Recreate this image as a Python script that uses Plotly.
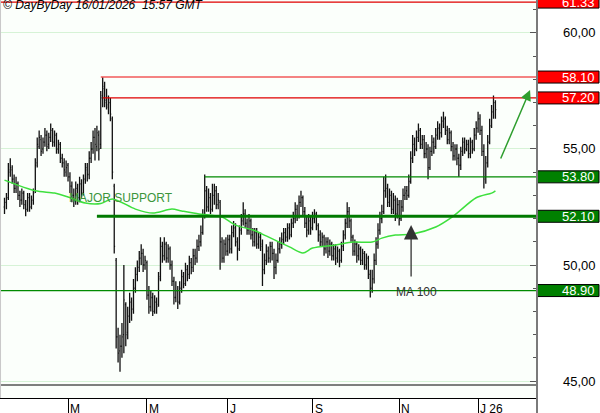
import plotly.graph_objects as go
import pandas as pd

# ---------------- data ----------------
holidays = ["2025-04-18", "2025-04-21", "2025-05-01", "2025-12-25", "2025-12-26", "2026-01-01"]

open_ = [
    52.5, 52.7, 52.9, 54.0, 54.1, 53.7, 53.3, 53.5, 53.0, 52.8, 53.1, 52.6, 52.4, 52.9, 52.5, 52.8,
    53.2, 54.4, 55.1, 55.4, 55.0, 55.3, 55.6, 55.2, 55.5, 55.8, 55.3, 55.6, 55.0, 55.2, 54.6, 54.4,
    54.0, 54.3, 53.8, 53.4, 53.0, 52.8, 53.3, 52.9, 53.5, 53.1, 53.7, 54.2, 53.9, 54.6, 55.0, 55.5,
    55.1, 55.6, 55.2, 57.3, 57.7, 57.0, 56.8, 57.0, 56.3, 53.4, 50.2, 46.9, 46.3, 46.5, 47.0, 48.3,
    47.1, 47.8, 48.4, 48.1, 49.0, 49.6, 49.9, 50.3, 50.5, 50.0, 50.1, 48.7, 48.2, 48.6, 48.0, 48.4,
    48.3, 49.5, 50.8, 50.4, 50.9, 50.3, 50.7, 50.0, 49.3, 48.6, 48.9, 48.4, 49.0, 49.5, 49.2, 49.8,
    49.6, 50.1, 49.9, 50.4, 50.3, 50.8, 51.0, 51.4, 52.1, 53.2, 52.5, 52.9, 52.4, 53.0, 53.2, 52.6,
    52.7, 51.0, 50.3, 50.9, 50.6, 51.1, 50.7, 51.4, 51.6, 51.0, 50.7, 51.5, 51.9, 52.2, 51.8, 51.5,
    51.9, 51.3, 51.0, 51.4, 50.9, 51.2, 50.9, 49.8, 50.2, 50.6, 50.3, 50.8, 50.5, 49.9, 50.2, 50.7,
    50.9, 51.1, 51.4, 51.2, 51.6, 51.3, 51.8, 52.0, 52.4, 52.1, 52.7, 52.9, 52.3, 51.8, 51.5, 51.9,
    51.6, 52.0, 52.2, 51.7, 51.3, 51.0, 51.2, 50.7, 51.0, 50.6, 50.9, 50.4, 50.7, 50.3, 50.6, 50.2,
    50.8, 51.3, 51.8, 52.3, 51.9, 51.2, 50.6, 50.9, 50.4, 50.7, 50.2, 50.5, 50.0, 50.3, 49.6, 49.0,
    49.4, 50.2, 50.9, 51.5, 52.0, 52.3, 53.2, 53.3, 52.7, 53.0, 52.4, 52.8, 52.2, 52.6, 52.0, 52.5,
    53.0, 53.2, 53.0, 53.6, 54.6, 55.2, 55.0, 55.5, 55.8, 55.2, 55.4, 54.8, 55.0, 54.2, 54.9, 55.3,
    55.1, 55.6, 55.9, 55.7, 56.2, 56.3, 55.8, 55.4, 55.7, 55.1, 54.7, 55.0, 54.6, 54.3, 54.9, 55.3,
    55.0, 55.2, 54.8, 55.3, 55.0, 55.6, 55.9, 56.3, 55.8, 54.9, 53.8, 54.4, 55.3, 56.0, 56.6, 57.0,
]
high = [
    52.9, 53.1, 54.4, 54.6, 54.3, 53.9, 53.8, 53.6, 53.2, 53.3, 53.2, 52.8, 53.1, 53.1, 53.0, 53.3,
    54.6, 55.5, 55.8, 55.6, 55.5, 55.9, 55.8, 55.7, 56.1, 55.9, 55.8, 55.7, 55.4, 55.3, 54.8, 54.6,
    54.5, 54.4, 54.0, 53.6, 53.3, 53.6, 53.5, 53.8, 53.7, 53.9, 54.4, 54.4, 54.9, 55.3, 55.8, 55.9,
    56.0, 55.8, 57.5, 58.1, 57.9, 57.6, 57.3, 57.2, 56.4, 53.5, 50.3, 47.3, 47.0, 47.5, 50.0, 48.4,
    48.2, 48.8, 48.6, 49.4, 49.9, 50.2, 50.6, 50.9, 50.7, 50.4, 50.2, 49.1, 48.9, 48.8, 48.7, 48.6,
    49.7, 51.2, 51.0, 51.2, 51.0, 50.9, 50.8, 50.2, 49.5, 49.3, 49.1, 49.3, 49.8, 49.7, 50.1, 50.0,
    50.4, 50.3, 50.7, 50.7, 51.1, 51.3, 51.7, 52.4, 53.9, 53.4, 53.3, 53.1, 53.5, 53.5, 53.4, 53.1,
    52.8, 51.2, 51.1, 51.2, 51.3, 51.3, 51.7, 51.9, 51.8, 51.2, 51.7, 52.2, 52.7, 52.4, 52.0, 52.2,
    52.0, 51.6, 51.6, 51.6, 51.4, 51.4, 51.1, 50.5, 50.9, 50.8, 51.0, 51.0, 50.7, 50.5, 51.0, 51.2,
    51.4, 51.6, 51.6, 51.8, 51.8, 52.0, 52.3, 52.7, 52.6, 53.0, 53.2, 53.0, 52.5, 52.1, 52.2, 52.1,
    52.3, 52.4, 52.3, 51.8, 51.5, 51.4, 51.3, 51.2, 51.2, 51.1, 51.0, 50.9, 50.9, 50.8, 50.7, 51.0,
    51.5, 52.0, 52.7, 52.5, 52.0, 51.3, 51.1, 51.0, 50.9, 50.8, 50.7, 50.6, 50.5, 50.4, 49.8, 49.8,
    50.5, 51.2, 51.8, 52.3, 52.6, 53.8, 53.9, 53.5, 53.3, 53.2, 53.1, 53.0, 52.9, 52.8, 52.8, 53.3,
    53.4, 53.4, 53.9, 54.9, 55.6, 55.5, 55.8, 56.1, 55.9, 55.6, 55.6, 55.3, 55.2, 55.1, 55.6, 55.5,
    55.9, 56.2, 56.1, 56.4, 56.6, 56.4, 56.0, 55.9, 55.8, 55.3, 55.2, 55.2, 54.8, 55.1, 55.5, 55.5,
    55.4, 55.4, 55.5, 55.4, 55.9, 56.2, 56.6, 56.5, 56.0, 55.2, 54.7, 55.6, 56.3, 56.9, 57.3, 57.1,
]
low = [
    52.2, 52.4, 52.8, 53.8, 53.5, 53.1, 53.1, 52.8, 52.5, 52.6, 52.4, 52.1, 52.3, 52.3, 52.4, 52.6,
    53.1, 54.2, 55.0, 54.7, 54.8, 55.1, 54.9, 55.0, 55.3, 55.1, 55.1, 54.8, 54.8, 54.4, 54.2, 53.8,
    53.8, 53.6, 53.1, 52.7, 52.5, 52.6, 52.6, 52.7, 52.9, 53.0, 53.5, 53.6, 53.7, 54.4, 54.8, 54.5,
    54.9, 54.5, 55.0, 56.8, 56.8, 56.7, 56.5, 56.2, 53.7, 50.5, 46.4, 45.8, 45.4, 46.0, 46.2, 46.5,
    46.8, 47.5, 47.6, 47.9, 48.8, 49.3, 49.7, 50.0, 49.7, 49.8, 48.5, 47.9, 48.0, 47.8, 47.9, 47.9,
    48.2, 49.3, 50.1, 50.2, 50.1, 50.1, 49.8, 49.1, 48.3, 48.4, 48.1, 48.3, 48.8, 49.0, 49.1, 49.3,
    49.4, 49.6, 49.7, 50.0, 50.1, 50.6, 50.8, 51.3, 52.0, 52.3, 52.3, 52.2, 52.3, 52.6, 52.4, 52.4,
    49.8, 50.1, 50.1, 50.4, 50.4, 50.5, 50.5, 51.2, 50.8, 50.2, 50.6, 51.3, 51.7, 51.6, 51.3, 51.3,
    51.1, 50.8, 50.8, 50.7, 50.7, 50.6, 49.1, 49.6, 50.0, 50.1, 50.1, 50.2, 49.4, 49.6, 50.1, 50.5,
    50.7, 50.9, 51.0, 51.0, 51.1, 51.2, 51.6, 51.8, 51.9, 52.0, 52.5, 52.1, 51.6, 51.2, 51.3, 51.3,
    51.5, 51.8, 51.5, 51.0, 50.8, 50.8, 50.4, 50.5, 50.3, 50.4, 50.2, 50.2, 50.0, 50.1, 49.9, 50.1,
    50.6, 51.1, 51.6, 51.6, 51.0, 50.4, 50.4, 50.1, 50.2, 50.0, 50.0, 49.8, 49.8, 49.4, 48.6, 48.8,
    49.2, 50.0, 50.7, 51.3, 51.8, 52.2, 52.9, 52.5, 52.5, 52.2, 52.2, 51.9, 52.0, 51.7, 51.9, 52.3,
    52.8, 52.8, 52.9, 53.5, 54.4, 54.7, 54.9, 55.3, 55.0, 55.0, 54.6, 54.6, 53.7, 54.1, 54.7, 54.8,
    55.0, 55.4, 55.4, 55.5, 55.9, 55.6, 55.2, 55.2, 54.9, 54.5, 54.5, 54.3, 53.8, 54.1, 54.7, 54.8,
    54.9, 54.6, 54.6, 54.8, 54.9, 55.4, 55.7, 55.6, 54.7, 53.3, 53.5, 54.2, 55.2, 55.9, 56.3, 56.3,
]
close = [
    52.7, 52.9, 54.1, 54.2, 53.7, 53.3, 53.5, 53.0, 52.8, 53.1, 52.6, 52.4, 52.9, 52.5, 52.8, 53.1,
    54.3, 55.2, 55.5, 54.9, 55.3, 55.6, 55.1, 55.5, 55.8, 55.3, 55.6, 55.0, 55.2, 54.6, 54.4, 54.1,
    54.2, 53.8, 53.4, 53.0, 52.8, 53.3, 52.9, 53.5, 53.1, 53.7, 54.1, 53.9, 54.6, 55.0, 55.5, 55.2,
    55.7, 55.0, 57.2, 57.6, 57.1, 56.9, 57.0, 56.5, 54.0, 50.8, 46.9, 46.2, 46.5, 46.9, 48.5, 47.0,
    47.8, 48.4, 48.1, 49.0, 49.6, 49.9, 50.3, 50.5, 50.0, 50.2, 48.7, 48.2, 48.6, 48.0, 48.4, 48.2,
    49.4, 50.8, 50.4, 50.9, 50.3, 50.7, 50.0, 49.3, 48.6, 48.9, 48.4, 49.0, 49.5, 49.2, 49.8, 49.6,
    50.1, 49.9, 50.4, 50.3, 50.8, 51.0, 51.4, 52.1, 53.2, 52.5, 52.9, 52.4, 53.0, 53.2, 52.6, 52.8,
    51.0, 50.3, 50.9, 50.6, 51.1, 50.7, 51.4, 51.6, 51.0, 50.7, 51.5, 51.9, 52.2, 51.8, 51.5, 51.9,
    51.3, 51.0, 51.4, 50.9, 51.2, 50.8, 49.8, 50.2, 50.6, 50.3, 50.8, 50.5, 49.9, 50.2, 50.7, 50.9,
    51.1, 51.4, 51.2, 51.6, 51.3, 51.8, 52.0, 52.4, 52.1, 52.7, 52.9, 52.3, 51.8, 51.5, 51.9, 51.6,
    52.0, 52.2, 51.7, 51.3, 51.0, 51.2, 50.7, 51.0, 50.6, 50.9, 50.4, 50.7, 50.3, 50.6, 50.2, 50.8,
    51.3, 51.8, 52.3, 51.9, 51.2, 50.6, 50.9, 50.4, 50.7, 50.2, 50.5, 50.0, 50.3, 49.6, 49.0, 49.4,
    50.2, 50.9, 51.5, 52.0, 52.3, 53.2, 53.3, 52.7, 53.0, 52.4, 52.8, 52.2, 52.6, 52.0, 52.5, 53.0,
    53.1, 53.0, 53.6, 54.6, 55.2, 55.0, 55.5, 55.8, 55.2, 55.4, 54.8, 55.0, 54.2, 54.9, 55.3, 55.1,
    55.6, 55.9, 55.7, 56.2, 56.3, 55.8, 55.4, 55.7, 55.1, 54.7, 55.0, 54.6, 54.3, 54.9, 55.3, 55.0,
    55.2, 54.8, 55.3, 55.0, 55.6, 55.9, 56.3, 55.8, 54.9, 53.7, 54.4, 55.3, 56.0, 56.6, 57.0, 56.7,
]

# 100-day moving average, read at these bar indices
ma_idx = [0, 16, 26, 33, 42, 50, 56, 68, 77, 87, 92, 101, 106, 113, 120, 129, 137, 148, 155,
          160, 172, 181, 191, 196, 203, 212, 224, 233, 245, 253, 255]
ma_val = [53.66, 53.2, 53.1, 52.93, 52.67, 52.65, 52.85, 52.41, 52.24, 52.41, 52.33, 52.2, 52.16,
          52.07, 51.72, 51.51, 51.21, 50.78, 50.52, 50.73, 50.86, 50.99, 50.99, 51.16, 51.29, 51.34,
          51.64, 52.1, 52.9, 53.1, 53.2]

level_vals = [61.33, 58.10, 57.20, 53.80, 52.10, 48.90]
level_labels = ["61.33", "58.10", "57.20", "53.80", "52.10", "48.90"]
level_start = [None, 50, 51, 104, 48, None]   # bar index where the line begins
level_kind = ["res", "res2", "res", "sup", "sup_major", "sup"]

month_keys = ["2025-03", "2025-05", "2025-07", "2025-09", "2025-11", "2026-01"]
month_labels = ["M", "M", "J", "S", "N", "J 26"]
ytick_vals = [45, 50, 55, 60]
ytick_text = ["45,00", "50,00", "55,00", "60,00"]

# ---------------- figure ----------------
FONT = "Liberation Sans, Arial, sans-serif"
days = pd.bdate_range("2025-01-15", "2026-01-15")
days = days[~days.isin(pd.to_datetime(holidays))]
n = len(close)
days = days[:n]
x = list(range(n))
month_of = list(days.strftime("%Y-%m"))
tick_pos = [month_of.index(k) for k in month_keys]

W_PLOT, H_PLOT = 537, 398
x_range = [-2.34, 276.6]
y_range = [44.27, 61.42]

fig = go.Figure()
fig.add_trace(go.Ohlc(
    x=x, open=open_, high=high, low=low, close=close,
    increasing=dict(line=dict(color="#111111", width=1.3)),
    decreasing=dict(line=dict(color="#111111", width=1.3)),
    tickwidth=0.45, hoverinfo="skip", showlegend=False))
fig.add_trace(go.Scatter(
    x=ma_idx, y=ma_val, mode="lines",
    line=dict(color="#3ee03e", width=1.5, shape="spline", smoothing=0.8),
    hoverinfo="skip", showlegend=False))

style = {
    "res": ("#e00000", 1.2, "#ff0000"),
    "res2": ("#f25a5a", 1.6, "#ff0000"),
    "sup": ("#008a00", 1.2, "#008000"),
    "sup_major": ("#007a00", 3, "#008000"),
}
shapes = []
annotations = []
box_half = 6.0 * (y_range[1] - y_range[0]) / H_PLOT
for v, lab, st, kind in zip(level_vals, level_labels, level_start, level_kind):
    lc, lw, bc = style[kind]
    x0 = x_range[0] if st is None else st
    shapes.append(dict(type="line", xref="x", yref="y", x0=x0, x1=x_range[1], y0=v, y1=v,
                       line=dict(color=lc, width=lw)))
    shapes.append(dict(type="rect", xref="paper", yref="y", x0=1.0, x1=599 / W_PLOT,
                       y0=v - box_half, y1=v + box_half, fillcolor=bc,
                       line=dict(color="#000000", width=1)))
    annotations.append(dict(xref="paper", yref="y", x=597 / W_PLOT, y=v, text=lab,
                            xanchor="right", yanchor="middle", showarrow=False,
                            font=dict(family=FONT, size=13, color="#ffffff")))

for v, t in zip(ytick_vals, ytick_text):
    annotations.append(dict(xref="paper", yref="y", x=598 / W_PLOT, y=v, text=t,
                            xanchor="right", yanchor="middle", showarrow=False,
                            font=dict(family=FONT, size=13, color="#000000")))

for p, t in zip(tick_pos, month_labels):
    annotations.append(dict(xref="x", yref="paper", x=p, y=0, text=t, xanchor="left",
                            yanchor="top", xshift=0, yshift=-2, showarrow=False,
                            font=dict(family=FONT, size=12, color="#000000")))

# separator line and right axis line
shapes.append(dict(type="line", xref="paper", yref="paper", x0=0, x1=1,
                   y0=13 / H_PLOT, y1=13 / H_PLOT, line=dict(color="#000000", width=1)))
shapes.append(dict(type="line", xref="paper", yref="paper", x0=1, x1=1,
                   y0=1, y1=-16 / H_PLOT, line=dict(color="#7a7a7a", width=2)))
shapes.append(dict(type="line", xref="paper", yref="paper", x0=0.001, x1=0.001,
                   y0=1, y1=0, line=dict(color="#c8c8c8", width=1)))

annotations += [
    dict(xref="paper", yref="paper", x=0, y=1, xanchor="left", yanchor="top",
         xshift=1, yshift=4, showarrow=False, text="<i>© DayByDay 16/01/2026  15:57 GMT</i>",
         font=dict(family=FONT, size=12, color="#000000")),
    dict(xref="x", yref="y", x=60.3, y=52.87, text="MAJOR SUPPORT", showarrow=False,
         font=dict(family=FONT, size=12, color="#3c963c")),
    dict(xref="x", yref="y", x=214, y=48.84, text="MA 100", showarrow=False,
         font=dict(family=FONT, size=12, color="#333333")),
    dict(xref="x", yref="y", x=211.2, y=51.72, ax=0, ay=53, text="", showarrow=True,
         arrowhead=2, arrowsize=2.2, arrowwidth=1.3, arrowcolor="#333333"),
    dict(xref="x", yref="y", x=273.0, y=57.54, ax=-30, ay=70, text="", showarrow=True,
         arrowhead=2, arrowsize=1.4, arrowwidth=1.5, arrowcolor="#2e9e2e"),
]

fig.update_layout(
    width=600, height=413,
    margin=dict(l=0, r=600 - W_PLOT, t=0, b=413 - H_PLOT),
    paper_bgcolor="#ffffff", plot_bgcolor="#fbfffb",
    showlegend=False, shapes=shapes, annotations=annotations,
    font=dict(family=FONT, size=12, color="#000000"),
    xaxis=dict(range=x_range, showgrid=False, zeroline=False, rangeslider=dict(visible=False),
               tickmode="array", tickvals=tick_pos, showticklabels=False,
               ticks="outside", ticklen=15, tickwidth=1, tickcolor="#000000",
               showline=True, linecolor="#000000", linewidth=1),
    yaxis=dict(range=y_range, side="right", showgrid=True, gridcolor="#d6f3d6", gridwidth=1,
               zeroline=False, showticklabels=False, dtick=5, tick0=0,
               ticks="inside", ticklen=7, tickcolor="#555555", showline=False,
               minor=dict(dtick=1, tick0=0, ticks="inside", ticklen=4, tickcolor="#555555",
                          showgrid=False)),
)

fig.write_html(
    "out.html",
    config={"displayModeBar": False},
    post_script="document.body.style.margin='0';document.body.style.overflow='hidden';",
)
